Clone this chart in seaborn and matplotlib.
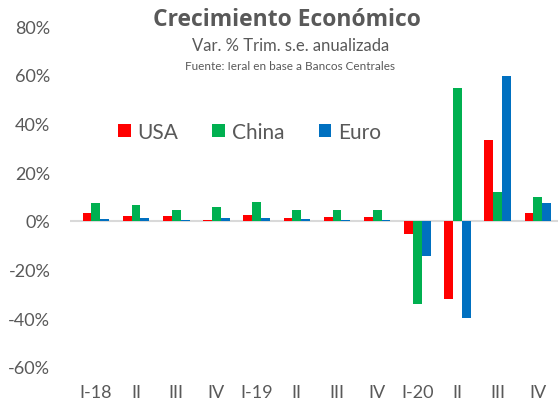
import pandas as pd
import seaborn as sns
import matplotlib.pyplot as plt
from matplotlib.ticker import FuncFormatter

trimestres = ["I-18", "II", "III", "IV", "I-19", "II", "III", "IV", "I-20", "II", "III", "IV"]
usa = [3.2, 1.8, 1.8, 0.5, 2.4, 1.0, 1.7, 1.7, -5.5, -32.0, 33.0, 3.1]
china = [7.2, 6.5, 4.4, 5.8, 7.9, 4.4, 4.4, 4.4, -34.0, 54.4, 12.0, 10.0]
euro = [0.8, 1.1, 0.3, 1.1, 1.1, 0.6, 0.5, 0.2, -14.5, -40.0, 59.5, 7.2]
series = ["USA", "China", "Euro"]
colores = ["#FF0000", "#00B050", "#0070C0"]

filas = []
for nombre, valores in zip(series, [usa, china, euro]):
    for i, v in enumerate(valores):
        filas.append([i, nombre, v])
dados = pd.DataFrame(filas, columns=["Pos", "Serie", "Valor"])

sns.set_style("white")
plt.rcParams["font.family"] = ["Lato", "DejaVu Sans"]
gris = "#595959"

f = plt.figure(figsize=(5.58, 4.02), dpi=100)
ax = f.add_axes([0.125, 0.0846, 0.875, 0.8482])

ax.axhline(0, color="#D9D9D9", lw=1.5, zorder=0)
sns.barplot(
    x="Pos",
    y="Valor",
    hue="Serie",
    data=dados,
    palette=colores,
    saturation=1,
    width=0.66,
    linewidth=0,
    errorbar=None,
    ax=ax,
)

ax.set_ylim(-60, 80)
ax.set_xlim(-0.65, 11.5)
ax.set_yticks(range(-60, 81, 20))
ax.yaxis.set_major_formatter(FuncFormatter(lambda v, p: f"{int(v)}%"))
ax.set_xticks(range(len(trimestres)))
ax.set_xticklabels(trimestres)
ax.tick_params(axis="both", colors=gris, labelsize=13, length=0)
ax.tick_params(axis="x", pad=12)
ax.tick_params(axis="y", pad=14)
ax.set_xlabel("")
ax.set_ylabel("")
sns.despine(left=True, right=True, top=True, bottom=True)

ax.legend(
    loc="center left",
    bbox_to_anchor=(0.178, 0.67),
    bbox_transform=f.transFigure,
    ncol=3,
    frameon=False,
    fontsize=15,
    handlelength=0.62,
    handleheight=0.62,
    handletextpad=0.3,
    columnspacing=1.65,
    labelcolor=gris,
)

f.text(0.514, 0.95, "Crecimiento Económico", ha="center", va="center",
       fontsize=16.5, fontweight="bold", color=gris, family="Open Sans")
f.text(0.52, 0.885, "Var. % Trim. s.e. anualizada", ha="center", va="center",
       fontsize=12, color=gris)
f.text(0.52, 0.835, "Fuente: Ieral en base a Bancos Centrales", ha="center", va="center",
       fontsize=8.5, color=gris)

f.savefig("out.png", dpi=100)
